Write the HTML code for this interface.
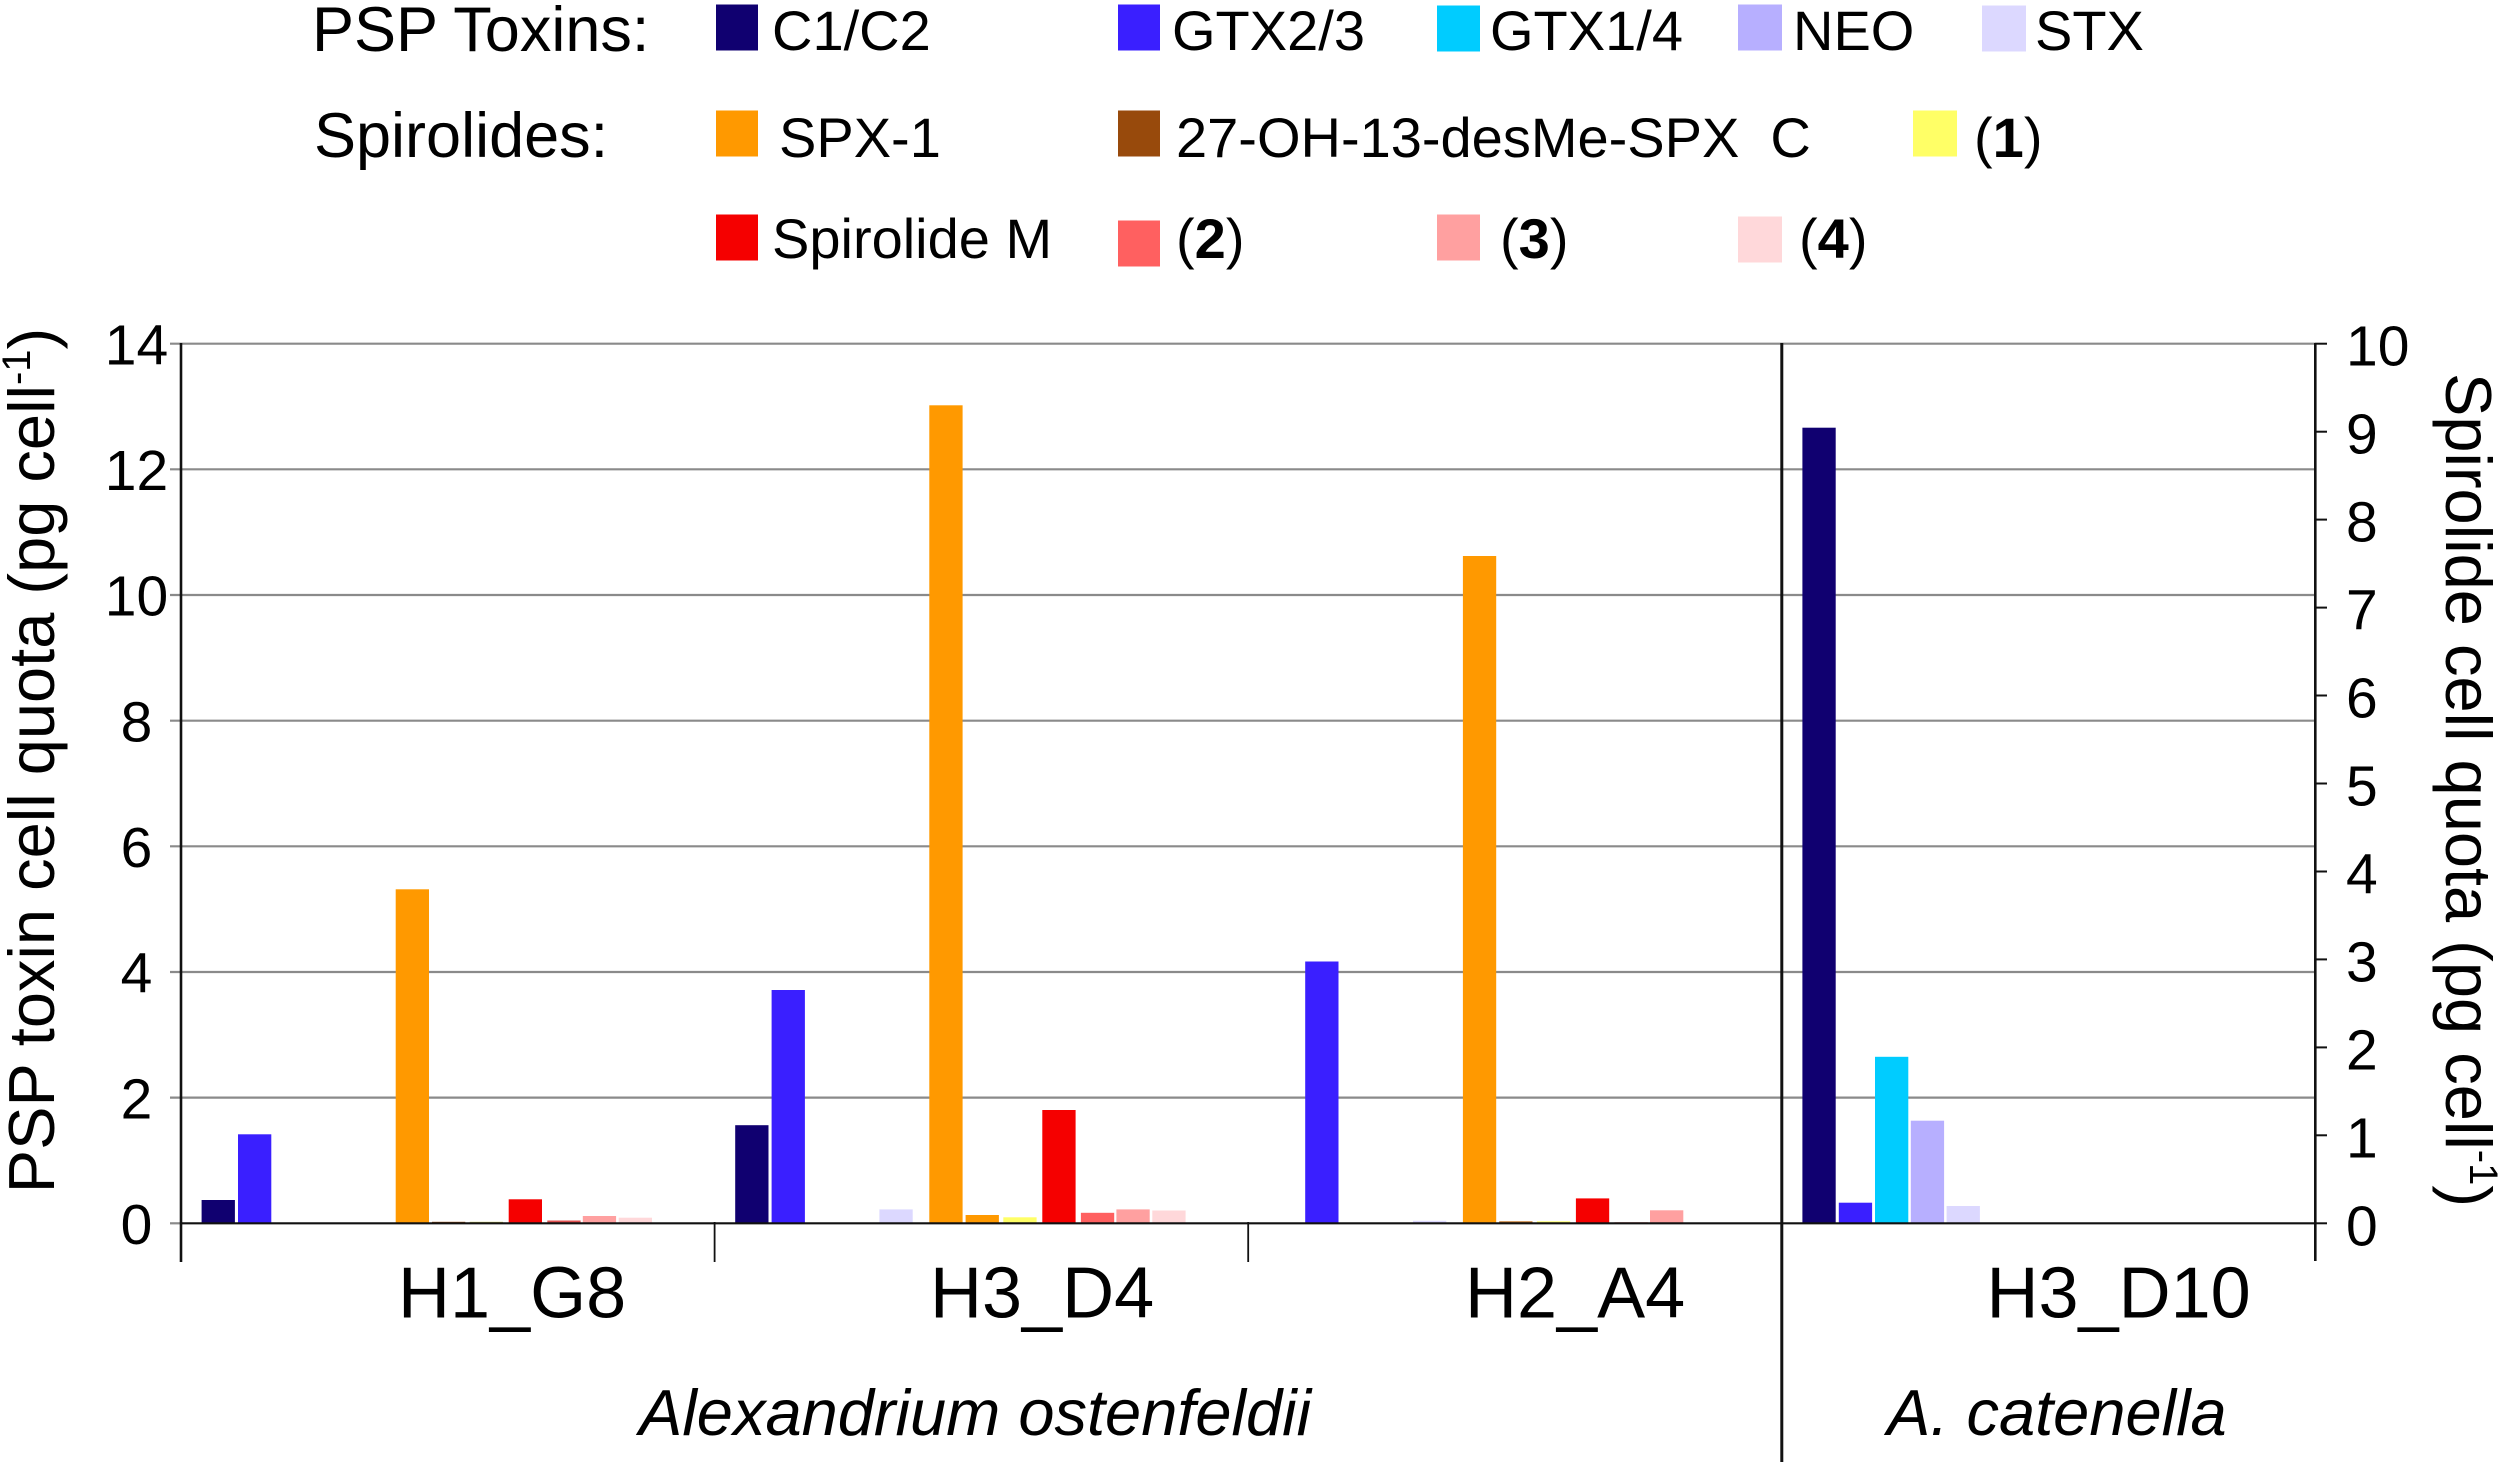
<!DOCTYPE html>
<html>
<head>
<meta charset="utf-8">
<style>
html,body{margin:0;padding:0;background:#fff;}
svg{display:block;}
text{font-family:"Liberation Sans",Arial,sans-serif;fill:#000;}
</style>
</head>
<body>
<svg width="2500" height="1466" viewBox="0 0 2500 1466" xmlns="http://www.w3.org/2000/svg">
<rect x="0" y="0" width="2500" height="1466" fill="#fff"/>

<!-- Legend -->
<g>
  <text x="312" y="51" font-size="63">PSP Toxins:</text>
  <text x="314" y="157" font-size="63">Spirolides:</text>

  <rect x="716" y="4.5" width="42" height="46" fill="#100070"/>
  <text x="772" y="50" font-size="56">C1/C2</text>

  <rect x="1118" y="4.5" width="42" height="46" fill="#3a1fff"/>
  <text x="1172" y="50" font-size="56">GTX2/3</text>

  <rect x="1437" y="5.5" width="43" height="46" fill="#00ccff"/>
  <text x="1490" y="50" font-size="56">GTX1/4</text>

  <rect x="1738" y="4.5" width="44" height="46" fill="#b7afff"/>
  <text x="1793" y="50" font-size="56">NEO</text>

  <rect x="1982" y="5.5" width="44" height="46" fill="#dcd8ff"/>
  <text x="2035" y="50" font-size="56">STX</text>

  <rect x="716" y="110.5" width="42" height="46" fill="#ff9900"/>
  <text x="779" y="157" font-size="56">SPX-1</text>

  <rect x="1118" y="110.5" width="42" height="46" fill="#984a0c"/>
  <text x="1176" y="157" font-size="56" xml:space="preserve">27-OH-13-desMe-SPX  C</text>

  <rect x="1913" y="110.5" width="44" height="46" fill="#ffff66"/>
  <text x="1974" y="157" font-size="56">(<tspan font-weight="bold">1</tspan>)</text>

  <rect x="716" y="214.5" width="42" height="46" fill="#f50000"/>
  <text x="772" y="258" font-size="56">Spirolide M</text>

  <rect x="1118" y="220.5" width="42" height="46" fill="#ff6060"/>
  <text x="1176" y="258" font-size="56">(<tspan font-weight="bold">2</tspan>)</text>

  <rect x="1437" y="214.5" width="43" height="46" fill="#ffa0a0"/>
  <text x="1500" y="258" font-size="56">(<tspan font-weight="bold">3</tspan>)</text>

  <rect x="1738" y="216.5" width="44" height="46" fill="#ffd8da"/>
  <text x="1799" y="258" font-size="56">(<tspan font-weight="bold">4</tspan>)</text>
</g>

<!-- Gridlines (with left ticks) -->
<g stroke="#8a8a8a" stroke-width="2.2">
  <line x1="170" y1="1097.6" x2="2315" y2="1097.6"/>
  <line x1="170" y1="972" x2="2315" y2="972"/>
  <line x1="170" y1="846.3" x2="2315" y2="846.3"/>
  <line x1="170" y1="720.7" x2="2315" y2="720.7"/>
  <line x1="170" y1="595" x2="2315" y2="595"/>
  <line x1="170" y1="469.3" x2="2315" y2="469.3"/>
  <line x1="170" y1="343.7" x2="2315" y2="343.7"/>
  <line x1="170" y1="1223.3" x2="181" y2="1223.3"/>
</g>

<!-- Bars -->
<g>
  <!-- H1_G8 (cat start 181) -->
  <rect x="201.6" y="1200" width="33.3" height="23.3" fill="#100070"/>
  <rect x="238" y="1134.3" width="33.3" height="89" fill="#3a1fff"/>
  <rect x="395.7" y="889.3" width="33.3" height="334" fill="#ff9900"/>
  <rect x="432" y="1221.8" width="33.3" height="1.5" fill="#984a0c"/>
  <rect x="469.7" y="1221.8" width="33.3" height="1.5" fill="#c8c860"/>
  <rect x="508.7" y="1199.3" width="33.3" height="24" fill="#f50000"/>
  <rect x="547.3" y="1220.5" width="33.3" height="2.8" fill="#e05050"/>
  <rect x="582.8" y="1216" width="33.3" height="7.3" fill="#ffa0a0"/>
  <rect x="618.7" y="1217.7" width="33.3" height="5.6" fill="#ffd8da"/>

  <!-- H3_D4 (cat start 714.6) -->
  <rect x="735.2" y="1125.2" width="33.3" height="98.1" fill="#100070"/>
  <rect x="771.6" y="990" width="33.3" height="233.3" fill="#3a1fff"/>
  <rect x="879.4" y="1209.4" width="33.3" height="13.9" fill="#dcd8ff"/>
  <rect x="929.3" y="405.3" width="33.3" height="818" fill="#ff9900"/>
  <rect x="965.6" y="1215" width="33.3" height="8.3" fill="#ff9900"/>
  <rect x="1003.3" y="1217.3" width="33.3" height="6" fill="#ffff66"/>
  <rect x="1042.3" y="1110" width="33.3" height="113.3" fill="#f50000"/>
  <rect x="1080.9" y="1212.8" width="33.3" height="10.5" fill="#ff6060"/>
  <rect x="1116.4" y="1209.4" width="33.3" height="13.9" fill="#ffa0a0"/>
  <rect x="1152.3" y="1210.5" width="33.3" height="12.8" fill="#ffd8da"/>

  <!-- H2_A4 (cat start 1248.2) -->
  <rect x="1305.2" y="961.5" width="33.3" height="261.8" fill="#3a1fff"/>
  <rect x="1413" y="1220.8" width="33.3" height="2.5" fill="#dcd8ff"/>
  <rect x="1462.9" y="556" width="33.3" height="667.3" fill="#ff9900"/>
  <rect x="1499.2" y="1221.3" width="33.3" height="2" fill="#c07020"/>
  <rect x="1536.9" y="1221.3" width="33.3" height="2" fill="#ffff66"/>
  <rect x="1575.9" y="1198.4" width="33.3" height="24.9" fill="#f50000"/>
  <rect x="1614.5" y="1222.3" width="33.3" height="1" fill="#ff6060"/>
  <rect x="1650" y="1210.3" width="33.3" height="13" fill="#ffa0a0"/>

  <!-- H3_D10 (cat start 1781.8) -->
  <rect x="1802.4" y="427.7" width="33.3" height="795.6" fill="#100070"/>
  <rect x="1838.8" y="1202.7" width="33.3" height="20.6" fill="#3a1fff"/>
  <rect x="1875" y="1056.8" width="33.3" height="166.5" fill="#00ccff"/>
  <rect x="1910.8" y="1120.7" width="33.3" height="102.6" fill="#b7afff"/>
  <rect x="1946.6" y="1206" width="33.3" height="17.3" fill="#dcd8ff"/>
</g>

<!-- Axes -->
<g stroke="#111">
  <line x1="181" y1="343" x2="181" y2="1262" stroke-width="2.6"/>
  <line x1="2315.3" y1="343" x2="2315.3" y2="1261" stroke-width="2.6"/>
  <line x1="181" y1="1223.3" x2="2315.3" y2="1223.3" stroke-width="2.2"/>
  <line x1="714.6" y1="1222" x2="714.6" y2="1262" stroke-width="1.8"/>
  <line x1="1248.2" y1="1222" x2="1248.2" y2="1262" stroke-width="1.8"/>
  <line x1="1781.8" y1="343" x2="1781.8" y2="1462" stroke-width="3"/>
  <!-- right ticks -->
  <line x1="2315" y1="1223.3" x2="2327" y2="1223.3" stroke-width="2"/>
  <line x1="2315" y1="1135.3" x2="2327" y2="1135.3" stroke-width="2"/>
  <line x1="2315" y1="1047.4" x2="2327" y2="1047.4" stroke-width="2"/>
  <line x1="2315" y1="959.4" x2="2327" y2="959.4" stroke-width="2"/>
  <line x1="2315" y1="871.5" x2="2327" y2="871.5" stroke-width="2"/>
  <line x1="2315" y1="783.5" x2="2327" y2="783.5" stroke-width="2"/>
  <line x1="2315" y1="695.5" x2="2327" y2="695.5" stroke-width="2"/>
  <line x1="2315" y1="607.6" x2="2327" y2="607.6" stroke-width="2"/>
  <line x1="2315" y1="519.6" x2="2327" y2="519.6" stroke-width="2"/>
  <line x1="2315" y1="431.7" x2="2327" y2="431.7" stroke-width="2"/>
  <line x1="2315" y1="343.7" x2="2327" y2="343.7" stroke-width="2"/>
</g>

<!-- Left tick labels -->
<g font-size="57" text-anchor="middle">
  <text x="136.5" y="1244">0</text>
  <text x="136.5" y="1118.3">2</text>
  <text x="136.5" y="992.6">4</text>
  <text x="136.5" y="867">6</text>
  <text x="136.5" y="741.3">8</text>
  <text x="136.5" y="615.6">10</text>
  <text x="136.5" y="490">12</text>
  <text x="136.5" y="364.3">14</text>
</g>

<!-- Right tick labels -->
<g font-size="57">
  <text x="2346" y="1245.5">0</text>
  <text x="2346" y="1157.5">1</text>
  <text x="2346" y="1069.5">2</text>
  <text x="2346" y="981.5">3</text>
  <text x="2346" y="893.5">4</text>
  <text x="2346" y="805.5">5</text>
  <text x="2346" y="717.5">6</text>
  <text x="2346" y="629.6">7</text>
  <text x="2346" y="541.6">8</text>
  <text x="2346" y="453.7">9</text>
  <text x="2346" y="365.7">10</text>
</g>

<!-- Axis titles -->
<text transform="translate(54,760.5) rotate(-90)" font-size="65" text-anchor="middle">PSP toxin cell quota (pg cell<tspan font-size="40" dy="-24">-1</tspan><tspan dy="24">)</tspan></text>
<text transform="translate(2446,790) rotate(90)" font-size="65" text-anchor="middle">Spirolide cell quota (pg cell<tspan font-size="40" dy="-24">-1</tspan><tspan dy="24">)</tspan></text>

<!-- Category labels -->
<g font-size="72">
  <text x="398" y="1317.5">H1_G8</text>
  <text x="930" y="1317.5">H3_D4</text>
  <text x="1465" y="1317.5">H2_A4</text>
  <text x="1986.5" y="1317.5">H3_D10</text>
</g>

<!-- Species labels -->
<g font-size="65" font-style="italic">
  <text x="639" y="1435">Alexandrium ostenfeldii</text>
  <text x="1887" y="1435">A. catenella</text>
</g>
</svg>
</body>
</html>
